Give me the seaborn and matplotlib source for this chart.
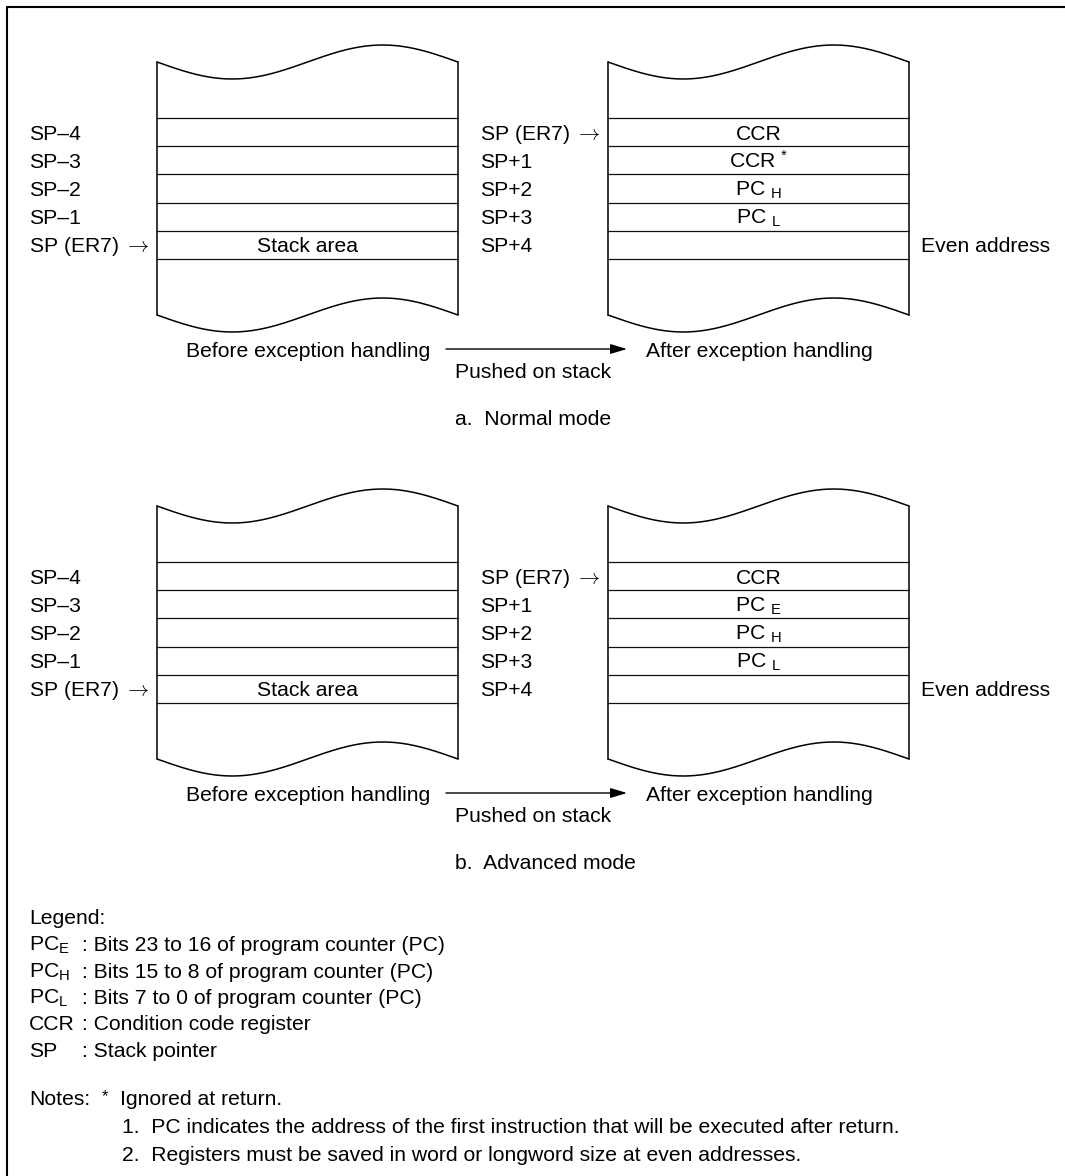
import numpy as np
import matplotlib

matplotlib.use("Agg")
import matplotlib.pyplot as plt
import seaborn as sns

# Stack contents, top row first
left_labels = ["SP–4", "SP–3", "SP–2", "SP–1", r"SP (ER7) $\rightarrow$"]
before_cells = ["", "", "", "", "Stack area"]
right_labels = [r"SP (ER7) $\rightarrow$", "SP+1", "SP+2", "SP+3", "SP+4"]
after_normal = ["CCR", r"CCR $^\mathregular{*}$", r"PC $_\mathregular{H}$", r"PC $_\mathregular{L}$", ""]
after_advanced = ["CCR", r"PC $_\mathregular{E}$", r"PC $_\mathregular{H}$", r"PC $_\mathregular{L}$", ""]
side_notes = ["", "", "", "", "Even address"]
panel_titles = ["a.  Normal mode", "b.  Advanced mode"]

legend_keys = [r"PC$_\mathregular{E}$", r"PC$_\mathregular{H}$", r"PC$_\mathregular{L}$", "CCR", "SP"]
legend_desc = [
    ": Bits 23 to 16 of program counter (PC)",
    ": Bits 15 to 8 of program counter (PC)",
    ": Bits 7 to 0 of program counter (PC)",
    ": Condition code register",
    ": Stack pointer",
]
notes = [
    "1.  PC indicates the address of the first instruction that will be executed after return.",
    "2.  Registers must be saved in word or longword size at even addresses.",
]

sns.set_theme(style="white")
plt.rcParams["font.family"] = ["Liberation Sans", "DejaVu Sans"]
plt.rcParams["text.color"] = "black"
plt.rcParams["mathtext.fontset"] = "custom"
plt.rcParams["mathtext.rm"] = "Liberation Sans"
plt.rcParams["mathtext.it"] = "Liberation Sans"

FS = 15.2
BOX_W = 301
BOX_X = [157, 608]
ROW_H = 28.2
PANEL_DY = 444
CAP = 7.4  # half cap height, px


def wave(ax, x0, y_end, amp=17):
    t = np.linspace(0, 1, 200)
    sns.lineplot(x=x0 + t * BOX_W, y=y_end + amp * np.sin(2 * np.pi * t),
                 sort=False, estimator=None, color="black", lw=1.1, ax=ax)


def stack(ax, x0, dy, cells):
    top, bottom = 62 + dy, 315 + dy
    wave(ax, x0, top)
    wave(ax, x0, bottom)
    ax.plot([x0, x0], [top, bottom], color="black", lw=1.1)
    ax.plot([x0 + BOX_W, x0 + BOX_W], [top, bottom], color="black", lw=1.1)
    row0 = 118 + dy
    for i in range(len(cells) + 1):
        y = row0 + i * ROW_H
        ax.plot([x0, x0 + BOX_W], [y, y], color="#111111", lw=0.9)
    for i, c in enumerate(cells):
        ax.text(x0 + BOX_W / 2, row0 + (i + 0.5) * ROW_H + CAP, c,
                ha="center", va="baseline", fontsize=FS)


fig = plt.figure(figsize=(10.65, 11.76), dpi=100)
ax = fig.add_axes([0, 0, 1, 1])
ax.set_xlim(0, 1065)
ax.set_ylim(1176, 0)
ax.axis("off")

# outer frame (top and left edges visible)
ax.plot([7, 7, 1070], [1180, 7, 7], color="black", lw=1.5)

for p, after in enumerate([after_normal, after_advanced]):
    dy = p * PANEL_DY
    stack(ax, BOX_X[0], dy, before_cells)
    stack(ax, BOX_X[1], dy, after)
    row0 = 118 + dy
    for i in range(len(left_labels)):
        yb = row0 + (i + 0.5) * ROW_H + CAP
        ax.text(29, yb, left_labels[i], fontsize=FS, va="baseline", math_fontfamily="cm")
        ax.text(480, yb, right_labels[i], fontsize=FS, va="baseline", math_fontfamily="cm")
        ax.text(921, yb, side_notes[i], fontsize=FS, va="baseline")
    ax.text(186, 357 + dy, "Before exception handling", fontsize=FS, va="baseline")
    ax.text(646, 357 + dy, "After exception handling", fontsize=FS, va="baseline")
    ax.annotate("", xy=(627, 349 + dy), xytext=(446, 349 + dy),
                arrowprops=dict(arrowstyle="-|>,head_length=1.0,head_width=0.3",
                                color="black", lw=1.0, mutation_scale=10,
                                shrinkA=0, shrinkB=0))
    ax.text(455, 378 + dy, "Pushed on stack", fontsize=FS, va="baseline")
    ax.text(455, 425 + dy, panel_titles[p], fontsize=FS, va="baseline")

ax.text(29, 924.5, "Legend:", fontsize=FS, va="baseline")
for i, (k, d) in enumerate(zip(legend_keys, legend_desc)):
    yb = 951 + i * 26.5
    ax.text(29, yb, k, fontsize=FS, va="baseline")
    ax.text(82, yb, d, fontsize=FS, va="baseline")

ax.text(29, 1105, "Notes:", fontsize=FS, va="baseline")
ax.text(102, 1101, "*", fontsize=FS * 0.8, va="baseline")
ax.text(120, 1105, "Ignored at return.", fontsize=FS, va="baseline")
for i, n in enumerate(notes):
    ax.text(122, 1133 + i * 28, n, fontsize=FS, va="baseline")

fig.savefig("out.png", dpi=100)
